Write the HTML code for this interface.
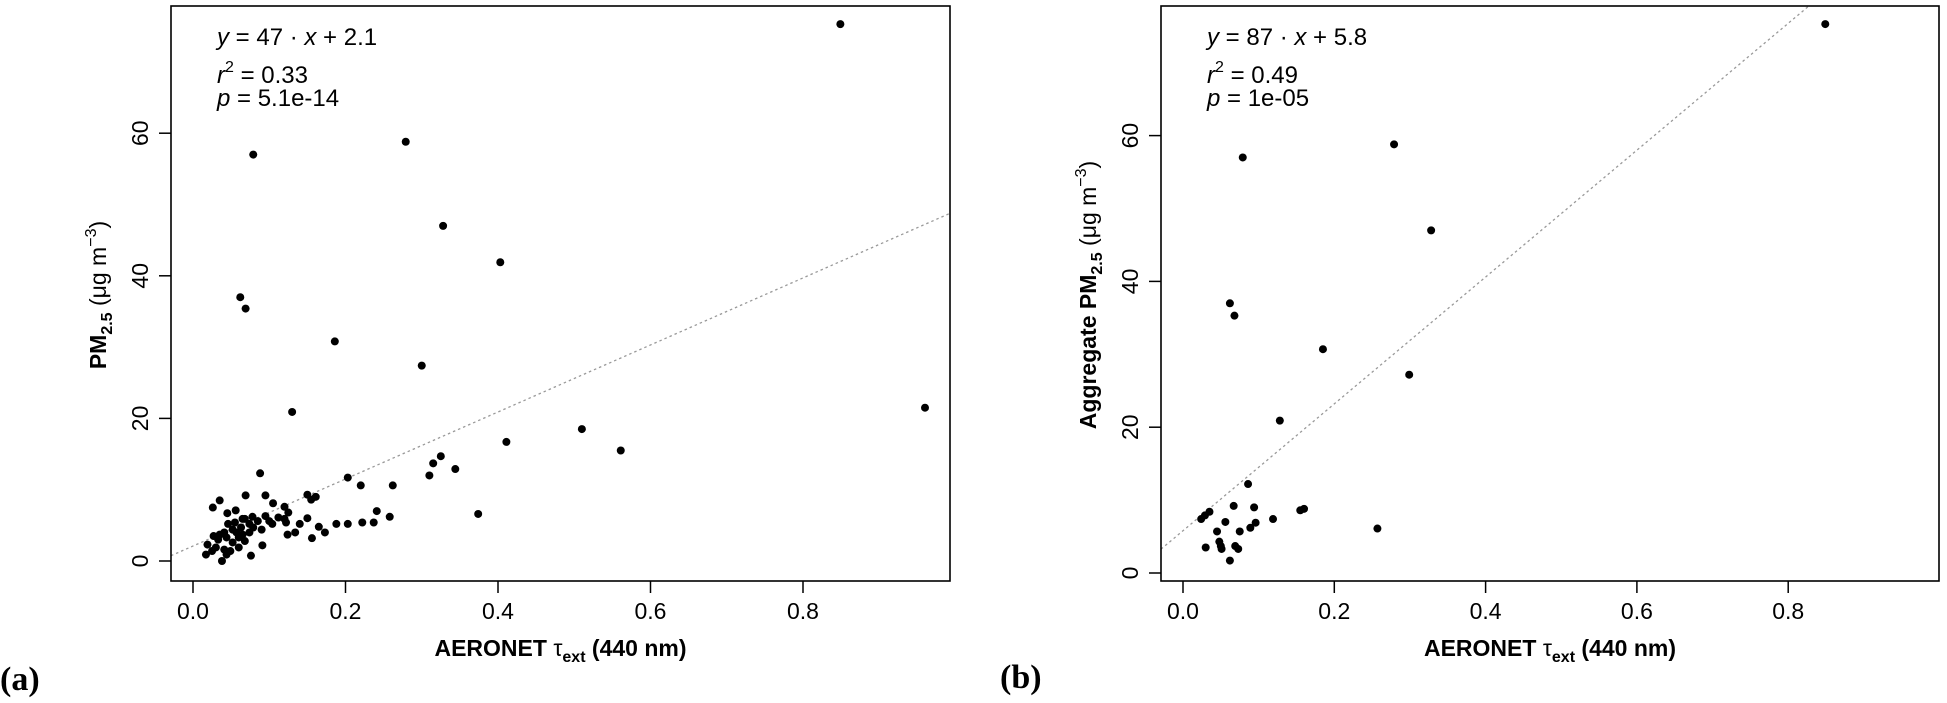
<!DOCTYPE html>
<html><head><meta charset="utf-8"><style>
html,body{margin:0;padding:0;background:#fff;width:1947px;height:703px;overflow:hidden}
svg{display:block}
text{font-family:"Liberation Sans",Arial,sans-serif;fill:#000}
</style></head><body>
<svg id="fig" width="1947" height="703" viewBox="0 0 1947 703" xmlns="http://www.w3.org/2000/svg">
<g id="pa"></g>
<g id="pb"></g>
<text x="0" y="690" style="font-family:'Liberation Serif',serif;font-weight:bold;font-size:34px">(a)</text>
<text x="1000" y="688" style="font-family:'Liberation Serif',serif;font-weight:bold;font-size:34px">(b)</text>
</svg>
<script>
const aX=[0.849,0.079,0.279,0.328,0.403,0.062,0.069,0.186,0.30,0.96,0.130,0.51,0.561,0.411,0.325,0.315,0.31,0.344,0.374,0.203,0.22,0.262,0.241,0.258,0.237,0.222,0.203,0.188,0.173,0.165,0.156,0.15,0.15,0.161,0.155,0.14,0.134,0.124,0.122,0.12,0.125,0.12,0.105,0.095,0.088,0.069,0.10,0.095,0.09,0.091,0.076,0.078,0.065,0.056,0.045,0.035,0.026,0.074,0.068,0.06,0.052,0.044,0.038,0.019,0.017,0.03,0.041,0.035,0.052,0.063,0.074,0.085,0.046,0.055,0.033,0.049,0.06,0.041,0.027,0.057,0.065,0.079,0.068,0.104,0.112,0.044,0.025];
const aY=[75.3,57,58.8,47.0,41.9,37,35.4,30.8,27.4,21.5,20.9,18.5,15.5,16.7,14.7,13.7,12.0,12.9,6.6,11.7,10.6,10.6,7.0,6.2,5.4,5.4,5.2,5.2,4.0,4.8,3.2,6.0,9.3,9.0,8.6,5.2,4.0,3.7,5.4,5.9,6.8,7.6,8.1,9.2,12.3,9.2,5.6,6.3,4.4,2.2,0.75,6.2,5.9,7.1,6.7,8.5,7.5,4.0,2.8,3.3,2.6,3.3,0,2.3,0.9,1.9,1.6,3.7,4.4,4.7,5.2,5.6,5.2,5.4,3.0,1.4,1.9,4.0,3.5,4.0,3.7,4.7,5.9,5.2,6.1,0.9,1.4];
const bX=[0.849,0.079,0.279,0.328,0.062,0.068,0.185,0.299,0.128,0.086,0.067,0.094,0.155,0.16,0.035,0.029,0.024,0.056,0.119,0.096,0.089,0.045,0.075,0.257,0.048,0.05,0.051,0.03,0.069,0.073,0.062];
const bY=[75.3,57,58.8,47.0,37.0,35.3,30.7,27.2,20.9,12.2,9.2,9.0,8.6,8.8,8.4,7.9,7.4,7.0,7.4,6.9,6.2,5.7,5.7,6.1,4.3,3.7,3.3,3.5,3.7,3.3,1.7];
const xTicks=[0,0.2,0.4,0.6,0.8];
const xTickLabels=["0.0","0.2","0.4","0.6","0.8"];
const yTicks=[0,20,40,60];
const yTickLabels=["0","20","40","60"];
const fitA=[47,2.1];
const fitB=[87,5.8];
const NS="http://www.w3.org/2000/svg";
function mk(p,tag,at){const e=document.createElementNS(NS,tag);for(const k in at)e.setAttribute(k,at[k]);p.appendChild(e);return e;}
function panel(g,cfg,xs,ys,fit,ann,ytitle,pfx){
  const sx=v=>cfg.x0+cfg.kx*v, sy=v=>cfg.y0-cfg.ky*v;
  const L=cfg.L,R=cfg.R,T=6,B=581;
  const xmin=(L-cfg.x0)/cfg.kx, xmax=(R-cfg.x0)/cfg.kx;
  const ytop=(cfg.y0-T)/cfg.ky;
  let x2=xmax,y2=fit[0]*xmax+fit[1];
  if(y2>ytop){x2=(ytop-fit[1])/fit[0];y2=ytop;}
  const ln=mk(g,'line',{x1:L,y1:sy(fit[0]*xmin+fit[1]),x2:sx(x2),y2:sy(y2),stroke:'#999','stroke-width':1.3,'stroke-dasharray':'2.5 3'});
  
  
  for(let i=0;i<xs.length;i++){
    const c=mk(g,'circle',{cx:sx(xs[i]),cy:sy(ys[i]),r:4,fill:'#000'});
    
    
  }
  const box=mk(g,'rect',{x:L,y:T,width:R-L,height:B-T,fill:'none',stroke:'#000','stroke-width':1.6});
  
  
  xTicks.forEach((t,i)=>{
    const tk=mk(g,'line',{x1:sx(t),y1:B,x2:sx(t),y2:B+12,stroke:'#000','stroke-width':1.5});
    
    
    const tl=mk(g,'text',{x:sx(t),y:619,'text-anchor':'middle','font-size':'23'});
    tl.textContent=xTickLabels[i];
    
    
  });
  yTicks.forEach((t,i)=>{
    const tk=mk(g,'line',{x1:L-12,y1:sy(t),x2:L,y2:sy(t),stroke:'#000','stroke-width':1.5});
    
    
    const bx=L-23;
    const tl=mk(g,'text',{x:bx,y:sy(t),'text-anchor':'middle','font-size':'23',transform:`rotate(-90 ${bx} ${sy(t)})`});
    tl.textContent=yTickLabels[i];
    
    
  });
  const xt=mk(g,'text',{x:(L+R)/2,y:656,'text-anchor':'middle','font-size':'23','font-weight':'bold'});
  xt.innerHTML='AERONET <tspan font-weight="normal">τ</tspan><tspan font-size="16" dy="6">ext</tspan><tspan dy="-6"> (440 nm)</tspan>';
  
  
  const ycx=cfg.tx, ycy=295;
  const yt=mk(g,'text',{x:ycx,y:ycy,'text-anchor':'middle','font-size':'23','font-weight':'bold',transform:`rotate(-90 ${ycx} ${ycy})`});
  yt.innerHTML=ytitle+'PM<tspan font-size="16" dy="6">2.5</tspan><tspan dy="-6" font-weight="normal"> (μg m</tspan><tspan font-size="16" dy="-10" font-weight="normal">−3</tspan><tspan dy="10" font-weight="normal">)</tspan>';
  
  
  const ax=cfg.ax;
  const a1=mk(g,'text',{x:ax,y:45,'font-size':'24'});
  a1.innerHTML='<tspan font-style="italic">y</tspan> = '+ann[0]+' · <tspan font-style="italic">x</tspan> + '+ann[1];
  
  
  const a2=mk(g,'text',{x:ax,y:83,'font-size':'24'});
  a2.innerHTML='<tspan font-style="italic">r</tspan><tspan font-size="16" dy="-11">2</tspan><tspan dy="11"> = '+ann[2]+'</tspan>';
  
  
  const a3=mk(g,'text',{x:ax,y:106,'font-size':'24'});
  a3.innerHTML='<tspan font-style="italic">p</tspan> = '+ann[3];
  
  
}
panel(document.getElementById('pa'),{L:171,R:950,x0:193,kx:762.5,y0:561,ky:7.13,tx:106,ax:217},aX,aY,fitA,['47','2.1','0.33','5.1e-14'],'','a');
panel(document.getElementById('pb'),{L:1161,R:1939,x0:1183,kx:756.5,y0:573,ky:7.29,tx:1096,ax:1207},bX,bY,fitB,['87','5.8','0.49','1e-05'],'Aggregate ','b');
</script>
</body></html>
